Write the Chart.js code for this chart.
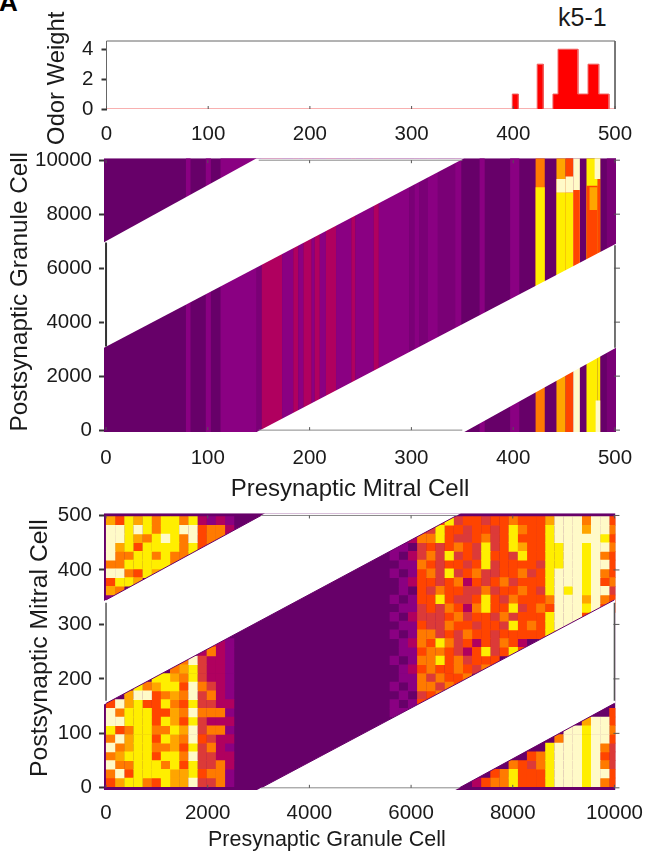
<!DOCTYPE html>
<html>
<head>
<meta charset="utf-8">
<title>k5-1</title>
<script src="https://cdn.jsdelivr.net/npm/chart.js@4"></script>
<style>
  html, body { margin: 0; background: #fff; }
  body { position: relative; width: 645px; height: 857px; overflow: hidden; font-family: "Liberation Sans", Arial, sans-serif; }
  .box { position: absolute; left: 0; width: 645px; }
  .note { position: absolute; color: #1a1a1a; line-height: 1; }
</style>
</head>
<body>
<div class="note" style="left:-1px;top:-11px;font-size:26px;font-weight:bold;color:#000">A</div>
<div class="note" style="left:558px;top:5px;font-size:25px">k5-1</div>
<div class="box" style="top:0;height:148px"><canvas id="odor"></canvas></div>
<div class="box" style="top:139px;height:369px"><canvas id="mitral"></canvas></div>
<div class="box" style="top:494px;height:363px;width:649px"><canvas id="granule"></canvas></div>
<script>
// odor weight outline
const odorCell = [0, 399, 399, 405, 405, 423.5, 423.5, 429.5, 429.5, 439, 439, 444, 444, 463.5, 463.5, 473.5, 473.5, 484, 484, 494, 494, 500];
const odorWeight = [0, 0, 1, 1, 0, 0, 3, 3, 0, 0, 1, 1, 4, 4, 1, 1, 3, 3, 1, 1, 0, 0];
const odorTicksX = [0, 100, 200, 300, 400, 500];
const odorTicksY = [0, 2, 4];

const heatColors = ["#670069", "#8a0082", "#b0005f", "#dc3a38", "#ff4400", "#ff7a00", "#ffa500", "#ffee00", "#fffac8", "#7a0076"];

// mitral panel: full height stripes, everything else is the dark base
const stripeStart = [78.5, 98, 112.5, 148, 153, 173, 184, 189, 194, 202, 205, 210, 216, 226, 241, 245, 263, 268, 298, 303, 308, 316, 326, 343, 367, 397, 422, 442.5, 451.5, 459, 472, 483, 492];
const stripeEnd = [83, 103, 148, 153, 173, 184, 189, 194, 202, 205, 210, 216, 226, 241, 245, 263, 268, 298, 303, 308, 316, 326, 343, 349, 372, 406, 431, 451.5, 459, 465.5, 483, 485.5, 501];
const stripeLevel = [1, 1, 1, 9, 2, 1, 2, 1, 2, 1, 2, 1, 2, 1, 2, 1, 2, 1, 9, 1, 9, 1, 9, 1, 1, 1, 5, 6, 4, 8, 7, 7, 9];

// parts of a stripe that change colour along the granule axis
const patchStart = [422, 442.5, 442.5, 451.5, 451.5, 459, 472, 475, 481, 483, 480];
const patchEnd = [431, 451.5, 451.5, 459, 459, 465.5, 483, 482.5, 485.5, 485.5, 485.5];
const patchFrom = [5000, 5000, 8800, 5000, 8800, 5000, 5000, 8150, -70, 5000, 9300];
const patchTo = [9000, 8800, 9300, 8800, 9400, 8900, 9050, 9000, 1100, 9300, 10070];
const patchLevel = [7, 7, 8, 7, 8, 4, 4, 6, 8, 4, 8];

const mitralTicksX = [0, 100, 200, 300, 400, 500];
const mitralTicksY = [0, 2000, 4000, 6000, 8000, 10000];

// granule panel, one string per row from the top, one digit per cell (0 = base colour)
const rowCenters = [490, 474, 458, 442, 426, 410, 394, 378, 362, 346, 330, 314, 298, 282, 266, 250, 234, 218, 202, 186, 170, 154, 138, 122, 106, 90, 74, 58, 42, 26, 10];
// columns 0-13, granule cells 0-2520
const leftRows = [
  "64767577572121", "88787577884552", "88765787584551", "86747777574521", "85577575573111",
  "55777775770000", "88547670000000", "47760000000000", "65000000000000", "10000000000000",
  "00000000000000", "00000000000000", "00000000000000", "00000000000000", "00000000000421",
  "00000000002521", "00000000583221", "00000005673221", "00000776573221", "00075677485321",
  "00688456583521", "48674475473322", "85777446585551", "88777476473222", "74577557683551",
  "58677476584322", "85677556473521", "56777477583322", "85577757473352", "58477776674551",
  "46775476683351"
];
// columns 31-55, granule cells 5580-10080
const rightRows = [
  "0114447344344544468885884", "1014374434434754478886885", "0125574334534744478888874",
  "1103434543734764477887885", "1023537343744374477887854", "0115434434734444377887884",
  "1014537345334453478887854", "0124434524345344478887845", "0104354433534454378787883",
  "1014474334743544458886854", "0113435425744734548887844", "1023334534435344478884400",
  "0114335443443745478800000", "1015534354434444477000000", "0125475342435420000000000",
  "0114554324734740000000000", "1015574534440000000000000", "0124544543500000000000000",
  "0115354450000000000000000", "1015535400000000000000000", "0103450000000000000000000",
  "1014000000000000000000000", "1100000000000000000000004", "0200000000000000000006884",
  "0000000000000000000887885", "0000000000000000005887884", "0000000000000000078887853",
  "0000000000000004578887843", "0000000000000543578887853", "0000000000045744478887884",
  "0000000002455744478887854"
];
const granuleTicksX = [0, 2000, 4000, 6000, 8000, 10000];
const granuleTicksY = [0, 100, 200, 300, 400, 500];

const font = "'Liberation Sans', Arial, sans-serif";
const ink = "#1a1a1a";

function poly(xs, ys, color) {
  return {
    data: xs.map((x, i) => ({ x, y: ys[i] })),
    showLine: true, fill: "shape", backgroundColor: color, borderWidth: 0, pointRadius: 0,
  };
}

function rect(x0, x1, y0, y1, color) {
  return poly([x0, x1, x1, x0], [y0, y0, y1, y1], color);
}

function edge(xs, ys, color, width) {
  return {
    data: xs.map((x, i) => ({ x, y: ys[i] })),
    showLine: true, fill: false, borderColor: color, borderWidth: width, pointRadius: 0, clip: 4,
  };
}

function axis(ticks, min, max, title, titleSize, titlePad, tickPad, fit) {
  return {
    type: "linear", min, max,
    afterBuildTicks: (s) => { s.ticks = ticks.map((value) => ({ value })); },
    afterFit: (s) => { if (s.isHorizontal()) s.height = fit; else s.width = fit; },
    border: { display: false },
    grid: {
      drawOnChartArea: false, drawTicks: true, tickLength: 5, tickWidth: 2,
      tickColor: (c) => (c.scale.isHorizontal() ? "transparent" : "#333"),
    },
    ticks: {
      color: ink, padding: tickPad, autoSkip: false, maxRotation: 0,
      font: { family: font, size: 20.5 }, callback: (v) => String(v),
    },
    title: { display: true, text: title, color: ink, font: { family: font, size: titleSize }, padding: titlePad },
  };
}

// small marks on the sides that have no scale
const sideTicks = {
  id: "sideTicks",
  afterDatasetsDraw(chart, args, opts) {
    const { ctx } = chart;
    const { x, y } = chart.scales;
    const top = y.getPixelForValue(y.ticks[y.ticks.length - 1].value);
    const bottom = y.getPixelForValue(y.ticks[0].value);
    ctx.save();
    ctx.strokeStyle = "#555";
    ctx.lineWidth = 1;
    ctx.beginPath();
    x.ticks.forEach((t) => {
      const px = x.getPixelForValue(t.value);
      ctx.moveTo(px, bottom);
      ctx.lineTo(px, bottom - 3);
      if (opts.right) {
        ctx.moveTo(px, top);
        ctx.lineTo(px, top + 3);
      }
    });
    if (opts.right) {
      const px = x.getPixelForValue(x.ticks[x.ticks.length - 1].value);
      y.ticks.forEach((t) => {
        const py = y.getPixelForValue(t.value);
        ctx.moveTo(px - 1, py);
        ctx.lineTo(px + 5, py);
      });
    }
    ctx.stroke();
    ctx.restore();
  },
};

function makeChart(id, datasets, scales, padding, right) {
  // Chart.js paints the first dataset last, the lists below read bottom layer first
  return new Chart(document.getElementById(id), {
    type: "scatter",
    data: { datasets: datasets.slice().reverse() },
    plugins: [sideTicks],
    options: {
      responsive: true, maintainAspectRatio: false, animation: false,
      layout: { padding },
      plugins: { legend: { display: false }, tooltip: { enabled: false }, sideTicks: { right } },
      scales,
    },
  });
}

function initOdor() {
  makeChart("odor", [
    {
      data: odorCell.map((x, i) => ({ x, y: odorWeight[i] })),
      showLine: true, fill: "origin", backgroundColor: "#ff0000", borderColor: "#f06060", borderWidth: 1, pointRadius: 0,
    },
    edge([0, 0, 500, 500], [0, 4.55, 4.55, 0], "#666", 1),
  ], {
    x: axis(odorTicksX, 0, 500, "", 22, { top: 0 }, 8, 39),
    y: axis(odorTicksY, 0, 4.55, "Odor Weight ", 23.8, { top: 43, bottom: 0 }, 8, 106.5),
  }, { top: 41, right: 30, bottom: 0, left: 0 }, false);
}

function initMitral() {
  const stripes = stripeStart.map((s, i) => rect(s, stripeEnd[i], -70, 10070, heatColors[stripeLevel[i]]));
  const patches = patchStart.map((s, i) => rect(s, patchEnd[i], patchFrom[i], patchTo[i], heatColors[patchLevel[i]]));
  makeChart("mitral", [
    rect(-2, 501, -70, 10070, heatColors[0]),
    ...stripes,
    ...patches,
    poly([-2, 352, 148, -2], [3050, 10070, 10070, 6960], "#fff"),
    poly([148, 501, 501, 352], [-70, 6900, 3050, -70], "#fff"),
    edge([150, 350], [10000, 10000], "#888", 1),
    edge([150, 350], [0, 0], "#888", 1),
    edge([0, 0], [3100, 6950], "#333", 2),
    edge([500, 500], [3050, 6850], "#444", 1.5),
  ], {
    x: axis(mitralTicksX, -2, 501, "Presynaptic Mitral Cell   ", 24, { top: 7 }, 9, 76),
    y: axis(mitralTicksY, -70, 10070, " Postsynaptic Granule Cell", 24.3, { top: 6, bottom: 0 }, 7, 104),
  }, { top: 0, right: 29, bottom: 0, left: 0 }, true);
}

function initGranule() {
  // one scatter set per colour, brighter cells go on top
  const byLevel = heatColors.slice(0, 9).map(() => []);
  rowCenters.forEach((y, r) => {
    [...leftRows[r]].forEach((c, i) => { if (c !== "0") byLevel[+c].push({ x: 90 + 180 * i, y }); });
    [...rightRows[r]].forEach((c, i) => { if (c !== "0") byLevel[+c].push({ x: 90 + 180 * (31 + i), y }); });
  });
  const cells = byLevel.map((data, level) => ({
    data, backgroundColor: heatColors[level], pointStyle: "rect", pointRadius: 6.6, pointBorderWidth: 0, borderWidth: 0,
  }));
  makeChart("granule", [
    rect(-40, 10020, -4, 504, heatColors[0]),
    ...cells,
    poly([-40, 6980, 3129, -40], [153, 504, 504, 343], "#fff"),
    poly([2969, 10020, 10020, 6871], [-4, 346, 156, -4], "#fff"),
    edge([0, 6900], [155, 500], heatColors[0], 1),
    edge([3050, 10000], [0, 345], heatColors[0], 1),
    edge([0, 3050], [345, 500], heatColors[0], 1),
    edge([6950, 10000], [0, 155], heatColors[0], 1),
    edge([3050, 6900], [500, 500], "#888", 1),
    edge([3050, 6950], [0, 0], "#888", 1),
    edge([0, 0], [160, 340], "#555", 1.5),
    edge([10000, 10000], [160, 340], "#555", 1.5),
  ], {
    x: axis(granuleTicksX, -40, 10020, "Presynaptic Granule Cell           ", 21.5, { top: 3 }, 6, 67),
    y: axis(granuleTicksY, -4, 504, " Postsynaptic Mitral Cell", 24.8, { top: 25, bottom: 0 }, 7, 104),
  }, { top: 0, right: 25.5, bottom: 0, left: 0 }, true);
}

initOdor();
initMitral();
initGranule();
</script>
</body>
</html>
